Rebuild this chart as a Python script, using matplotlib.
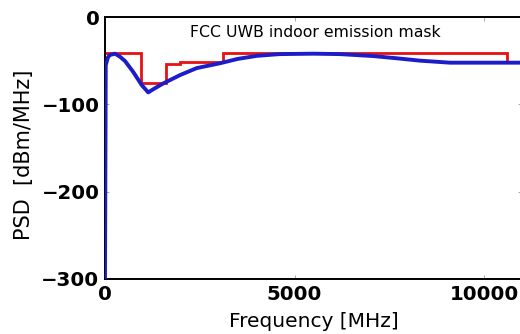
import matplotlib
matplotlib.use("Agg")
import matplotlib.pyplot as plt

# FCC UWB indoor emission mask (dBm/MHz) as stair levels between band edges
mask_edges_mhz = [0, 960, 1610, 1990, 3100, 10600, 11000]
mask_levels_dbm = [-41.3, -75.3, -53.3, -51.3, -41.3, -51.3]

# pulse PSD of the transmitted signal
psd_freq_mhz = [0, 20, 80, 130, 264, 396, 528, 740, 970, 1140, 1300, 1540,
                1980, 2420, 3030, 3500, 4000, 4600, 5500, 6200, 7070, 7700,
                8310, 9100, 11000]
psd_dbm = [-300, -55, -46, -43.5, -42, -45.5, -50.4, -62.6, -78, -86.3, -82,
           -76, -66.5, -58.5, -53, -48, -44.5, -42.5, -42, -42.5, -44.7,
           -47.3, -50, -52.3, -52.3]

xticks = [0, 5000, 10000]
yticks = [0, -100, -200, -300]

plt.rcParams["font.family"] = "DejaVu Sans"

fig = plt.figure(figsize=(5.2, 3.34), dpi=100)
ax = fig.add_axes([0.2019, 0.1647, 0.802, 0.7844])

ax.stairs(mask_levels_dbm, mask_edges_mhz, color="#e81010", linewidth=2.0,
          baseline=None, zorder=2)
ax.plot(psd_freq_mhz, psd_dbm, color="#1c1cc8", linewidth=2.8, zorder=3)

ax.set_xlim(0, 11000)
ax.set_ylim(-300, 0)
ax.set_xticks(xticks)
ax.set_yticks(yticks)
ax.tick_params(direction="in", length=3, width=0.6, color="#999999",
               top=True, right=True, labelsize=14.2, pad=4)
for lab in ax.get_xticklabels() + ax.get_yticklabels():
    lab.set_fontweight("bold")
for sp in ax.spines.values():
    sp.set_linewidth(1.4)

ax.text(0.504, 0.939, "FCC UWB indoor emission mask", transform=ax.transAxes,
        ha="center", va="center", fontsize=11.3)

ax.set_xlabel("Frequency [MHz]", fontsize=14.5)
ax.set_ylabel("PSD  [dBm/MHz]", fontsize=15)
ax.xaxis.set_label_coords(0.5, -0.125)
ax.yaxis.set_label_coords(-0.17, 0.473)

fig.savefig("out.png", dpi=100)
